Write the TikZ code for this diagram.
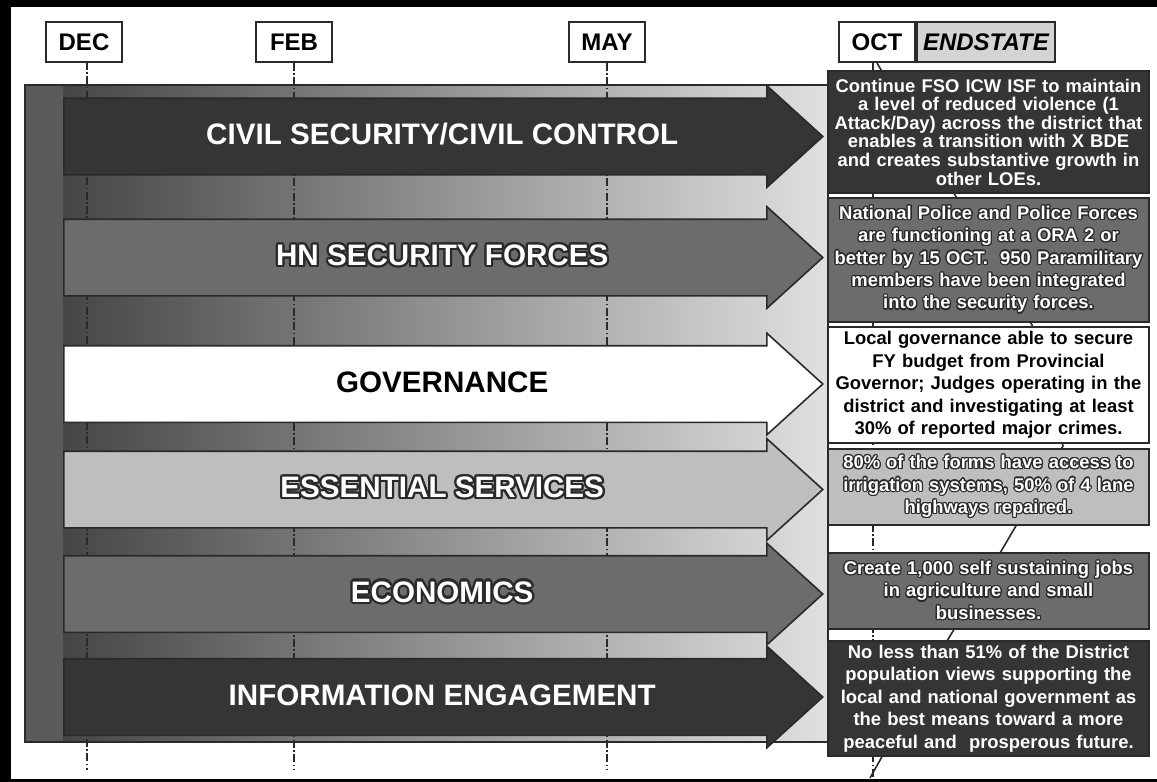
\documentclass[tikz,border=0pt]{standalone}
\usepackage{fontspec}
\setmainfont{Liberation Sans}
\usepackage{contour}
\usepackage{tikz}
\usetikzlibrary{shapes.arrows,positioning}
\definecolor{loedark}{HTML}{353535}
\definecolor{loemid}{HTML}{6C6C6C}
\definecolor{loelight}{HTML}{BEBEBE}
\definecolor{bandL}{HTML}{3E3E3E}
\definecolor{bandM}{HTML}{9A9A9A}
\definecolor{bandR}{HTML}{E0E0E0}
\definecolor{stripgray}{HTML}{5A5A5A}
\definecolor{inkline}{HTML}{2A2A2A}
\definecolor{endfill}{HTML}{D4D4D4}
\newcommand{\loeol}[1]{\contourlength{1.1pt}\contour{inkline}{#1}}
\newcommand{\boxol}[1]{\contourlength{0.6pt}\contour{inkline}{#1}}

\begin{document}
\begin{tikzpicture}[
  x=0.5pt, y=-0.5pt,
  every node/.style={font=\bfseries},
  monthbox/.style={rectangle, draw=inkline, line width=1pt, fill=white,
    minimum height=20pt, minimum width=38pt, inner xsep=3pt,
    font=\fontsize{12}{14}\selectfont\bfseries},
  loe/.style={single arrow, draw=inkline, line width=0.8pt, anchor=tail,
    minimum height=379.5pt, minimum width=50pt, inner xsep=0pt, inner ysep=11.75pt,
    text height=11pt, text depth=3pt, execute at begin node={\hspace*{20pt}},
    single arrow head extend=6.25pt, single arrow tip angle=84.5,
    single arrow head indent=0pt, font=\fontsize{14.8}{16}\selectfont\bfseries},
  endbox/.style={rectangle, draw=inkline, line width=0.8pt, minimum width=160.5pt,
    text width=160pt, align=center, inner sep=0pt,
    font=\fontsize{9.2}{11.2}\selectfont\bfseries},
  monthline/.style={inkline, line width=0.8pt,
    dash pattern=on 4pt off 1.2pt on 0.8pt off 1.2pt},
  trendline/.style={inkline, line width=0.8pt},
]
\useasboundingbox (0,0) rectangle (1157,782);

% Frame
\fill[black] (0,0) rectangle (1157,7);
\fill[black] (0,0) rectangle (11,782);
\fill[black] (0,779) rectangle (1157,782);

% Background panel
\shade[left color=bandL, middle color=bandM, right color=bandR] (25,85) rectangle (828,742);
\fill[stripgray] (25,85) rectangle (63,742);
\draw[inkline, line width=0.6pt] (25,85) rectangle (828,742);

% Months
\node[monthbox] (dec) at (84,42) {DEC};
\node[monthbox] (feb) at (294,42) {FEB};
\node[monthbox] (may) at (607,42) {MAY};
\node[monthbox] (oct) at (877,42) {OCT};
\node[monthbox, fill=endfill, right=0pt of oct, font=\fontsize{12}{14}\selectfont\bfseries\itshape] (endstate) {ENDSTATE};

\coordinate (floor) at (0,770);
\draw[monthline] (87,62) -- (87,770);
\draw[monthline] (feb.south) -- (feb.south |- floor);
\draw[monthline] (may.south) -- (may.south |- floor);

% Lines of effort
\node[loe, fill=loedark, text=white] (civil) at (63,136.5) {CIVIL SECURITY/CIVIL CONTROL};
\node[loe, fill=loemid, text=white] (hnsf) at (63,257.5) {\loeol{HN SECURITY FORCES}};
\node[loe, fill=white, text=black] (gov) at (63,384) {GOVERNANCE};
\node[loe, fill=loelight, text=white] (ess) at (63,489.5) {\loeol{ESSENTIAL SERVICES}};
\node[loe, fill=loemid, text=white] (econ) at (63,594) {\loeol{ECONOMICS}};
\node[loe, fill=loedark, text=white] (info) at (63,697) {INFORMATION ENGAGEMENT};

% Endstate trend behind the boxes
\coordinate (octfloor) at (873,778);
\coordinate (z1) at (955,195);
\coordinate (z2) at (1032,325);
\coordinate (z3) at (1063,446);
\coordinate (z4) at (1000,553);
\coordinate (z5) at (947,641);
\coordinate (z6) at (870,778);
\draw[monthline] (oct.south -| octfloor) -- (octfloor);
\draw[trendline] (oct.south) -- (z1) -- (z2) -- (z3) -- (z4) -- (z5) -- (z6);

% Endstate boxes
\node[endbox, fill=loedark, text=white, minimum height=61pt,
  font=\fontsize{9.2}{9.3}\selectfont\bfseries] (es1) at (988.5,132)
  {Continue FSO ICW ISF to maintain\\ a level of reduced violence (1\\ Attack/Day) across the district that\\ enables a transition with X BDE\\ and creates substantive growth in\\ other LOEs.};
\node[endbox, fill=loemid, text=white, minimum height=62pt] (es2) at (988.5,260)
  {\boxol{National Police and Police Forces}\\ \boxol{are functioning at a ORA 2 or}\\ \boxol{better by 15 OCT.~ 950 Paramilitary}\\ \boxol{members have been integrated}\\ \boxol{into the security forces.}};
\node[endbox, fill=white, text=black, minimum height=58pt] (es3) at (988.5,385)
  {Local governance able to secure\\ FY budget from Provincial\\ Governor; Judges operating in the\\ district and investigating at least\\ 30\% of reported major crimes.};
\node[endbox, fill=loelight, text=white, minimum height=38pt] (es4) at (988.5,487)
  {\boxol{80\% of the forms have access to}\\ \boxol{irrigation systems, 50\% of 4 lane}\\ \boxol{highways repaired.}};
\node[endbox, fill=loemid, text=white, minimum height=38pt] (es5) at (988.5,591)
  {\boxol{Create 1,000 self sustaining jobs}\\ \boxol{in agriculture and small}\\ \boxol{businesses.}};
\node[endbox, fill=loedark, text=white, minimum height=57.5pt] (es6) at (988.5,698.5)
  {No less than 51\% of the District\\ population views supporting the\\ local and national government as\\ the best means toward a more\\ peaceful and~ prosperous future.};
\end{tikzpicture}
\end{document}
